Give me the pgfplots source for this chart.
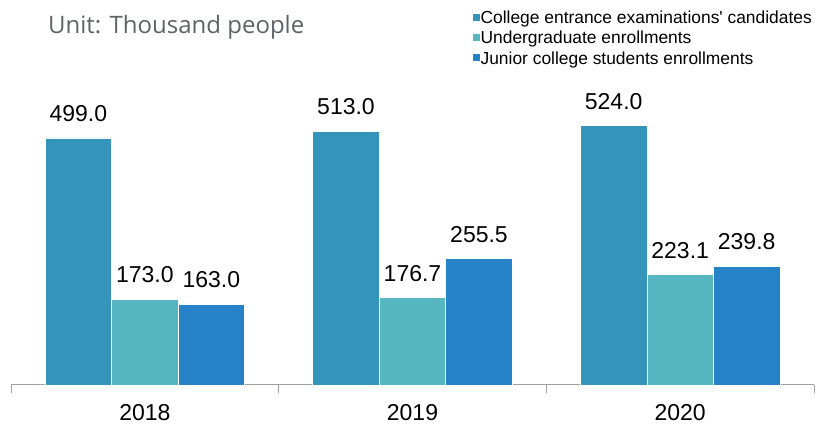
\documentclass[border=0pt]{standalone}
\usepackage{pgfplots}
\pgfplotsset{compat=1.18}
\usepackage{fontspec}
\setmainfont{Liberation Sans}
\newfontfamily\titlefont{Open Sans}
\definecolor{cA}{RGB}{53,148,186}
\definecolor{cB}{RGB}{88,182,192}
\definecolor{cC}{RGB}{39,131,200}
\definecolor{axgray}{RGB}{160,160,160}
\definecolor{titlegray}{RGB}{95,99,104}
\begin{document}
\begin{tikzpicture}
\useasboundingbox (0pt,0pt) rectangle (817pt,425pt);
\node[anchor=base west, font=\titlefont\fontsize{24}{28}\selectfont, text=titlegray, inner sep=0pt] at (48pt,391.5pt) {Unit: Thousand people};
\begin{axis}[
  at={(11pt,40pt)}, anchor=south west,
  scale only axis, width=803pt, height=346.5pt,
  xmin=-0.5, xmax=2.5, ymin=0, ymax=700,
  clip=false,
  ybar=0pt, bar width=66.5pt,
  axis y line=none,
  axis x line=bottom,
  x axis line style={-, draw=axgray, line width=1pt},
  xtick={0,1,2},
  xticklabels={2018,2019,2020},
  major tick length=0pt,
  minor xtick={-0.5,0.5,1.5,2.5},
  minor tick length=8pt,
  tick align=outside,
  minor tick style={draw=axgray, line width=1pt},
  xticklabel style={font=\fontsize{23}{27}\selectfont, anchor=base, yshift=-36pt, inner sep=0pt},
  /pgf/number format/assume math mode=true,
  nodes near coords={\pgfmathprintnumber[fixed,zerofill,precision=1]{\pgfplotspointmeta}},
  every node near coord/.append style={font=\fontsize{23}{27}\selectfont, anchor=base, inner sep=0pt, yshift=16.5pt, text=black},
  legend style={at={(0.5746,1.0823)}, anchor=north west, draw=none, fill=none,
    font=\fontsize{17.4}{20}\selectfont, row sep=5.5pt, inner sep=0pt,
    nodes={inner sep=1pt, text depth=0pt}},
  legend cell align=left,
  legend image code/.code={\fill[#1, draw=none] (-2pt,-3.5pt) rectangle (5pt,3.5pt);},
]
\addplot[fill=cA, draw=white, line width=0.6pt] coordinates {(0,499.0) (1,513.0) (2,524.0)};
\addplot[fill=cB, draw=white, line width=0.6pt] coordinates {(0,173.0) (1,176.7) (2,223.1)};
\addplot[fill=cC, draw=white, line width=0.6pt] coordinates {(0,163.0) (1,255.5) (2,239.8)};
\legend{College entrance examinations\textquotesingle{} candidates, Undergraduate enrollments, Junior college students enrollments}
\end{axis}
\end{tikzpicture}
\end{document}
